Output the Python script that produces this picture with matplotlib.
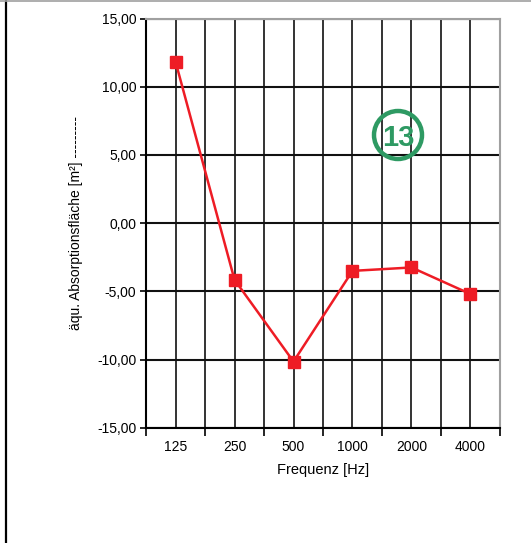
import matplotlib
matplotlib.use("Agg")
import matplotlib.pyplot as plt
from matplotlib.lines import Line2D
from matplotlib.patches import Ellipse

plt.rcParams['font.family'] = ['Liberation Sans', 'DejaVu Sans']

freqs = ['125', '250', '500', '1000', '2000', '4000']
absorption = [11.85, -4.15, -10.15, -3.5, -3.25, -5.2]
yticks = [15, 10, 5, 0, -5, -10, -15]
ytick_labels = ['15,00', '10,00', '5,00', '0,00', '-5,00', '-10,00', '-15,00']

W, H = 531, 543
fig = plt.figure(figsize=(W / 100, H / 100), dpi=100)
ax = fig.add_axes([146 / W, 1 - 427.7 / H, 354 / W, 409.1 / H])

x = list(range(len(freqs)))
ax.plot(x, absorption, color='#ee1c25', lw=1.8, marker='s', ms=8,
        markeredgecolor='#ee1c25', markerfacecolor='#ee1c25', zorder=3)

ax.set_xlim(-0.5, len(freqs) - 0.5)
ax.set_ylim(-15, 15)
ax.set_yticks(yticks)
ax.set_yticklabels(ytick_labels, fontsize=10)
ax.set_xticks(x)
ax.set_xticklabels(freqs, fontsize=10)
ax.set_xticks([i - 0.5 for i in range(len(freqs) + 1)], minor=True)
ax.tick_params(axis='x', which='major', length=0, pad=9)
ax.tick_params(axis='x', which='minor', length=6, width=1.2, direction='out')
ax.tick_params(axis='y', which='major', length=4, width=1.2, pad=3)

ax.set_axisbelow(True)
ax.grid(axis='x', which='both', color='#111111', lw=1.2)
ax.grid(axis='y', which='major', color='#111111', lw=1.5)

for s in ['top', 'right']:
    ax.spines[s].set_color('#a0a0a0')
    ax.spines[s].set_linewidth(1.5)
for s in ['left', 'bottom']:
    ax.spines[s].set_color('black')
    ax.spines[s].set_linewidth(1.5)

ax.set_xlabel('Frequenz [Hz]', fontsize=10.5, labelpad=6)
fig.text(76 / W, 1 - 223 / H, 'äqu. Absorptionsfläche [m²] ---------',
         rotation=90, ha='center', va='center', fontsize=10)

# label circle
green = '#2e9a63'
fig.add_artist(Ellipse((398 / W, 1 - 135 / H), 48 / W, 48 / H,
                       transform=fig.transFigure, fill=False,
                       edgecolor=green, lw=3.2, facecolor='none'))
fig.text(398 / W, 1 - 138 / H, '13', color=green, fontsize=21,
         fontweight='bold', ha='center', va='center')

# page frame
fig.add_artist(Line2D([6 / W, 6 / W], [0, 1], color='black', lw=1.6,
                      transform=fig.transFigure))
fig.add_artist(Line2D([0, 1], [1 - 1 / H, 1 - 1 / H], color='#a0a0a0',
                      lw=1.2, transform=fig.transFigure))

fig.savefig('out.png', dpi=100)
